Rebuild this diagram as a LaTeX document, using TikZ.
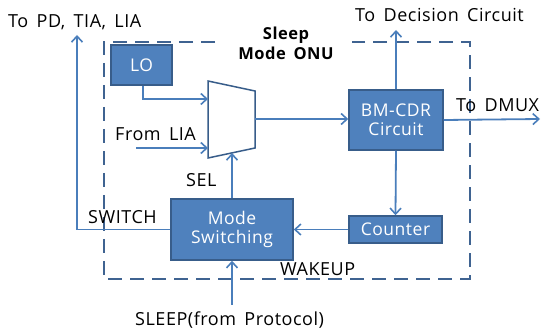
\documentclass[tikz,border=0pt]{standalone}
\usepackage{fontspec}
\setmainfont{Open Sans}[LetterSpace=3,WordSpace=1.6]
\usetikzlibrary{arrows.meta}
\definecolor{boxfill}{HTML}{4F81BD}
\definecolor{boxedge}{HTML}{385D8A}
\definecolor{wire}{HTML}{4A7EBB}
\definecolor{frame}{HTML}{3F6391}
\begin{document}
\begin{tikzpicture}[x=1pt,y=-1pt,
  blk/.style={draw=boxedge,line width=1.5pt,fill=boxfill,text=white,align=center,inner sep=0pt,font=\fontsize{17.5}{19.5}\selectfont},
  wireln/.style={draw=wire,line width=1.8pt},
  arr/.style={wireln,-{Straight Barb[length=6pt,width=11pt,line width=1.6pt]}},
  lbl/.style={inner sep=0pt,font=\fontsize{18}{20}\selectfont,anchor=west}]
\useasboundingbox (0,0) rectangle (547,334);

% dashed frame of the sleep-mode ONU
\draw[frame,line width=1.6pt,dash pattern=on 14pt off 8pt]
  (215,42) -- (104,42) -- (104,279) -- (470,279) -- (470,42) -- (352,42);
\node[font=\bfseries\fontsize{16.5}{19.5}\selectfont,align=center,inner sep=0pt] (title) at (286,43.5) {Sleep\\Mode ONU};

% blocks
\node[blk,minimum width=61pt,minimum height=40pt] (lo) at (141.5,65) {LO};
\node[blk,minimum width=94pt,minimum height=60pt] (cdr) at (396,120) {BM-CDR\\Circuit};
\node[blk,minimum width=93pt,minimum height=27pt] (cnt) at (395.5,229.5) {Counter};
\node[blk,minimum width=122pt,minimum height=61pt] (ms) at (232,229.5) {Mode\\Switching};

% multiplexer
\draw[draw=boxedge,line width=1.5pt,fill=white] (208,81) -- (255,91) -- (255,148) -- (208,158) -- cycle;
\coordinate (muxout) at (255,119);
\coordinate (muxlo) at (208,99);
\coordinate (muxin) at (208,148);
\coordinate (muxsel) at (232,153);

% free ends
\coordinate (liain) at (136,148);
\coordinate (dec) at (396,30);
\coordinate (dmux) at (540,119);
\coordinate (pd) at (77,35);
\coordinate (sleep) at (232,305);

% connectors
\draw[arr] (lo.south -| 143,0) |- (muxlo);
\draw[arr] (liain) -- (muxin);
\draw[arr] (muxout) -- (muxout -| cdr.west);
\draw[arr] (cdr.north) -- (dec);
\draw[arr] (cdr.east) -- (dmux);
\draw[arr] (cdr.south) -- (cnt.north);
\draw[arr] (cnt.west) -- (ms.east);
\draw[arr] (ms.north) -- (muxsel);
\draw[arr] (ms.west) -| (pd);
\draw[arr] (sleep) -- (ms.south);

% labels
\node[lbl] (tpd) at (8,22) {To PD, TIA, LIA};
\node[lbl] (tdec) at (355,15) {To Decision Circuit};
\node[lbl] (tdmux) at (456,105) {To DMUX};
\node[lbl] (flia) at (115,134) {From LIA};
\node[lbl] (sel) at (186,180) {SEL};
\node[lbl] (sw) at (88,217) {SWITCH};
\node[lbl] (wk) at (280,269) {WAKEUP};
\node[lbl] (slp) at (135,320) {SLEEP(from Protocol)};
\end{tikzpicture}
\end{document}
